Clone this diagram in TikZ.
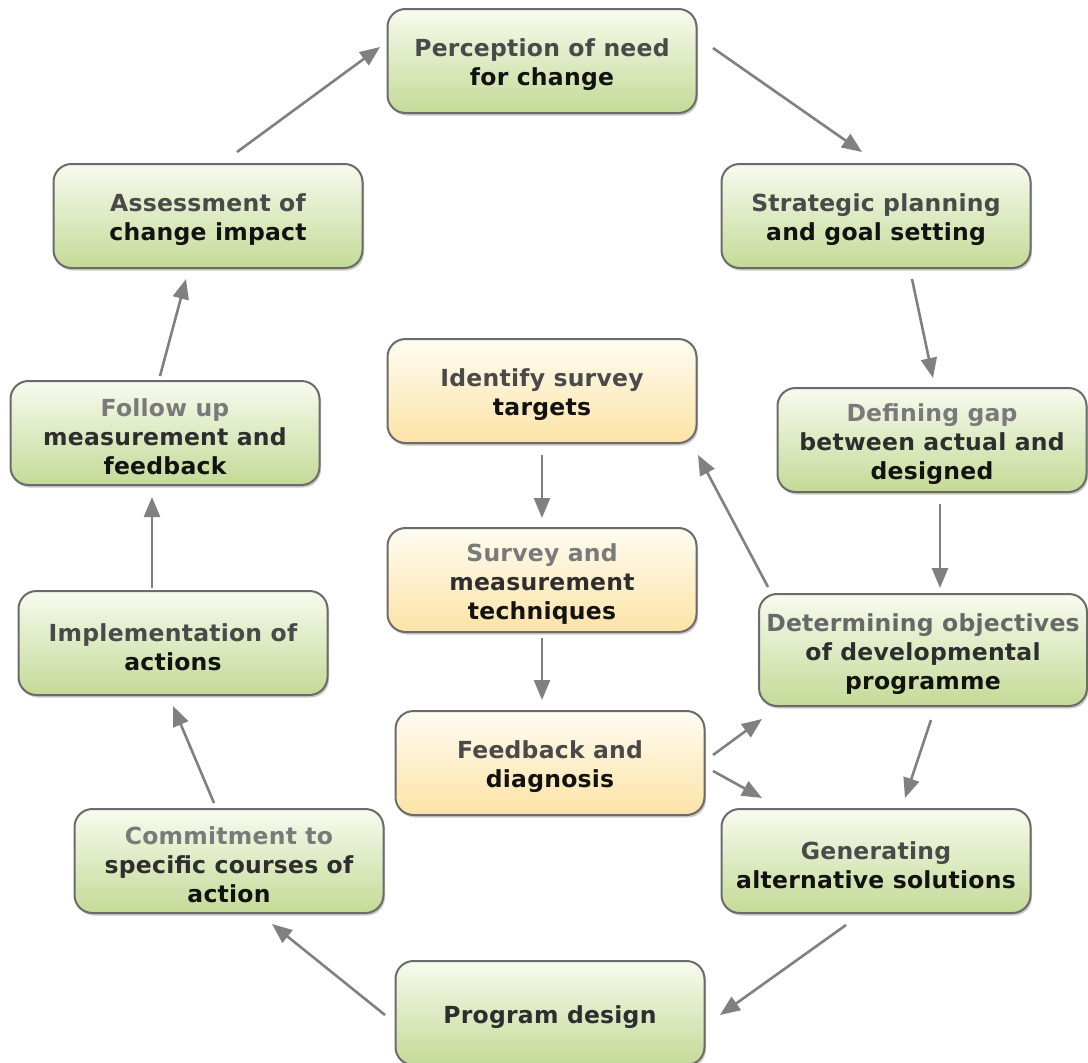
\documentclass[tikz,border=0pt]{standalone}
\usepackage{fontspec}
\setmainfont{DejaVu Sans}[LetterSpace=1]
\usetikzlibrary{arrows.meta,shadows}

\definecolor{boxline}{HTML}{6B6B6B}
\definecolor{greentop}{HTML}{F7FBEE}
\definecolor{greenbot}{HTML}{C4DA97}
\definecolor{yellowtop}{HTML}{FFFCF2}
\definecolor{yellowbot}{HTML}{FCE3A6}
\definecolor{arrowgray}{HTML}{808080}
% text tones, lighter towards the top of a box
\definecolor{tlight}{HTML}{7A7A7A}
\definecolor{tmid}{HTML}{4A4A4A}
\definecolor{tdark}{HTML}{2E2E2E}
\definecolor{tblack}{HTML}{121212}

% a tall strut opening the first line drops the text block slightly
\newcommand\topstrut{\rule{0pt}{26pt}}
\newcommand\tl[1]{\textcolor{tlight}{#1}}
\newcommand\tm[1]{\textcolor{tmid}{#1}}
\newcommand\td[1]{\textcolor{tdark}{#1}}
\newcommand\tk[1]{\textcolor{tblack}{#1}}

\tikzset{
  stagebox/.style={
    draw=boxline, line width=2pt, rounded corners=18pt,
    minimum width=309pt, minimum height=104pt,
    align=center, inner sep=0pt,
    font=\fontsize{23.5}{29}\selectfont\bfseries,
    drop shadow={shadow xshift=1.5pt, shadow yshift=-2.5pt, opacity=0.35, fill=black!60}
  },
  greenbox/.style={stagebox, top color=greentop, bottom color=greenbot},
  yellowbox/.style={stagebox, top color=yellowtop, bottom color=yellowbot},
  flow/.style={draw=arrowgray, line width=2.6pt,
    -{Triangle[length=20pt,width=16pt]}}
}

\begin{document}
\begin{tikzpicture}[x=1pt,y=-1pt]
\useasboundingbox (0,0) rectangle (1088,1063);

% outer cycle
\node[greenbox] (P)  at (542,61)   {\topstrut\tm{Perception of need}\\\tk{for change}};
\node[greenbox] (S)  at (876,216)  {\topstrut\tm{Strategic planning}\\\tk{and goal setting}};
\node[greenbox] (D)  at (932,440)  {\topstrut\tl{Defining gap}\\\td{between actual and}\\\tk{designed}};
\node[greenbox, minimum width=328pt, minimum height=112pt] (O) at (923,650)
  {\topstrut\textcolor{tlight!85!black}{Determining objectives}\\\td{of developmental}\\\tk{programme}};
\node[greenbox] (G)  at (876,861)  {\topstrut\tm{Generating}\\\tk{alternative solutions}};
\node[greenbox] (PD) at (550,1013) {\topstrut\td{Program design}};
\node[greenbox] (C)  at (229,861)  {\topstrut\tl{Commitment to}\\\td{specific courses of}\\\tk{action}};
\node[greenbox] (I)  at (173,643)  {\topstrut\tm{Implementation of}\\\tk{actions}};
\node[greenbox] (F)  at (165,433)  {\topstrut\tl{Follow up}\\\td{measurement and}\\\tk{feedback}};
\node[greenbox] (A)  at (208,216)  {\topstrut\tm{Assessment of}\\\tk{change impact}};

% survey column
\node[yellowbox] (T)  at (542,391) {\topstrut\tm{Identify survey}\\\tk{targets}};
\node[yellowbox] (M)  at (542,580) {\topstrut\tl{Survey and}\\\td{measurement}\\\tk{techniques}};
\node[yellowbox] (FB) at (550,763) {\topstrut\tm{Feedback and}\\\tk{diagnosis}};

% cycle connectors
\draw[flow] ([shift={(171,-13)}]P.center)  -- ([shift={(-14,-64)}]S.center);
\draw[flow] ([shift={(36,63)}]S.center)    -- ([shift={(1,-62)}]D.center);
\draw[flow] ([shift={(8,64)}]D.center)     -- ([shift={(17,-62)}]O.center);
\draw[flow] ([shift={(8,70)}]O.center)     -- ([shift={(29,-63)}]G.center);
\draw[flow] ([shift={(-30,64)}]G.center)   -- ([shift={(170,2)}]PD.center);
\draw[flow] ([shift={(-165,2)}]PD.center)  -- ([shift={(43,63)}]C.center);
\draw[flow] ([shift={(-15,-58)}]C.center)  -- ([shift={(0,63)}]I.center);
\draw[flow] ([shift={(-21,-55)}]I.center)  -- ([shift={(-13,64)}]F.center);
\draw[flow] ([shift={(-5,-57)}]F.center)   -- ([shift={(-22,63)}]A.center);
\draw[flow] ([shift={(29,-64)}]A.center)   -- ([shift={(-162,-14)}]P.center);

% survey connectors
\draw[flow] ([shift={(0,64)}]T.center)     -- ([shift={(0,-62)}]M.center);
\draw[flow] ([shift={(0,58)}]M.center)     -- ([shift={(-8,-63)}]FB.center);
\draw[flow] ([shift={(163,-8)}]FB.center)  -- ([shift={(-161,69)}]O.center);
\draw[flow] ([shift={(163,8)}]FB.center)   -- ([shift={(-114,-63)}]G.center);
\draw[flow] ([shift={(-155,-63)}]O.center) -- ([shift={(156,64)}]T.center);
\end{tikzpicture}
\end{document}
